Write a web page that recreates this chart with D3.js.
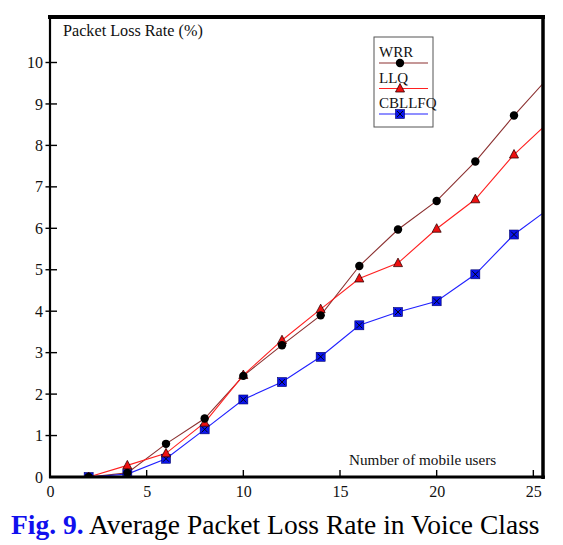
<!DOCTYPE html>
<html><head><meta charset="utf-8">
<script src="https://cdn.jsdelivr.net/npm/d3@7"></script>
<style>body{margin:0;background:#fff}svg{display:block}text{font-family:"Liberation Serif","Times New Roman",serif}</style>
</head><body><div id="chart"></div>
<script>
const users = [2,4,6,8,10,12,14,16,18,20,22,24,26];
const wrr    = [0,0.10,0.80,1.41,2.44,3.18,3.90,5.09,5.97,6.66,7.61,8.72,9.75];
const llq    = [0,0.28,0.57,1.31,2.46,3.30,4.05,4.79,5.16,5.99,6.70,7.78,8.65];
const cbllfq = [0,0.07,0.44,1.15,1.87,2.29,2.90,3.66,3.98,4.24,4.89,5.85,6.54];
const xTicks = [0,5,10,15,20,25];
const yTicks = [0,1,2,3,4,5,6,7,8,9,10];
const seriesNames = ["WRR","LLQ","CBLLFQ"];

const W=563,H=545;
const svg=d3.select("#chart").append("svg").attr("width",W).attr("height",H);
const x=d3.scaleLinear().domain([0,25.5]).range([50,543]);
const y=d3.scaleLinear().domain([0,10]).range([477,62.5]);

svg.append("defs").append("clipPath").attr("id","clip")
  .append("rect").attr("x",50).attr("y",17).attr("width",493).attr("height",460);

const series=[
  {name:seriesNames[0],vals:wrr,color:"#8b3030",marker:"circle"},
  {name:seriesNames[1],vals:llq,color:"#ff2020",marker:"triangle"},
  {name:seriesNames[2],vals:cbllfq,color:"#2020ff",marker:"square"}
];

function drawMarker(g,type,cx,cy){
  if(type==="circle"){
    g.append("circle").attr("cx",cx).attr("cy",cy).attr("r",4.2).attr("fill","#000");
  }else if(type==="triangle"){
    g.append("path").attr("d",`M${cx},${cy-5}L${cx+4.5},${cy+3.5}L${cx-4.5},${cy+3.5}Z`)
      .attr("fill","#ee1010").attr("stroke","#300").attr("stroke-width",0.8);
  }else{
    g.append("rect").attr("x",cx-4.5).attr("y",cy-4.5).attr("width",9).attr("height",9)
      .attr("fill","#0a14ee").attr("stroke","#00006a").attr("stroke-width",0.6);
    g.append("path").attr("d",`M${cx-3},${cy-3}L${cx+3},${cy+3}M${cx+3},${cy-3}L${cx-3},${cy+3}`)
      .attr("stroke","#000").attr("stroke-width",0.9);
  }
}

const plot=svg.append("g").attr("clip-path","url(#clip)");
const line=d3.line().x((d,i)=>x(users[i])).y(d=>y(d));
series.forEach(s=>{
  plot.append("path").attr("d",line(s.vals)).attr("fill","none")
    .attr("stroke",s.color).attr("stroke-width",1.1);
});
series.slice().reverse().forEach(s=>{
  s.vals.forEach((v,i)=>{ if(users[i]<=25) drawMarker(plot,s.marker,x(users[i]),y(v)); });
});

// frame
svg.append("line").attr("x1",48).attr("x2",545).attr("y1",17).attr("y2",17).attr("stroke","#000").attr("stroke-width",4);
svg.append("line").attr("x1",543).attr("x2",543).attr("y1",15).attr("y2",479).attr("stroke","#000").attr("stroke-width",3.5);
svg.append("line").attr("x1",50).attr("x2",50).attr("y1",15).attr("y2",478).attr("stroke","#000").attr("stroke-width",2.2);
svg.append("line").attr("x1",49).attr("x2",545).attr("y1",477).attr("y2",477).attr("stroke","#000").attr("stroke-width",3);

// y axis ticks
const yAxis=d3.axisLeft(y).tickValues(yTicks).tickSize(0).tickPadding(7).tickFormat(d3.format("d"));
const ya=svg.append("g").attr("transform","translate(50,0)").call(yAxis);
ya.select(".domain").remove();
ya.selectAll("text").attr("font-size",16).attr("fill","#111").attr("font-family","Liberation Serif");
yTicks.filter(d=>d>0).forEach(d=>{
  svg.append("line").attr("x1",45.5).attr("x2",57).attr("y1",y(d)).attr("y2",y(d)).attr("stroke","#000").attr("stroke-width",1.4);
});
// x axis ticks
const xAxis=d3.axisBottom(x).tickValues(xTicks).tickSize(0).tickPadding(9).tickFormat(d3.format("d"));
const xa=svg.append("g").attr("transform","translate(0,477)").call(xAxis);
xa.select(".domain").remove();
xa.selectAll("text").attr("font-size",16).attr("fill","#111").attr("font-family","Liberation Serif");
xTicks.filter(d=>d>0).forEach(d=>{
  svg.append("line").attr("x1",x(d)).attr("x2",x(d)).attr("y1",470).attr("y2",477).attr("stroke","#000").attr("stroke-width",1.4);
});

svg.append("text").attr("x",63).attr("y",35.5).attr("font-size",16.2).attr("fill","#111").text("Packet Loss Rate (%)");
svg.append("text").attr("x",349).attr("y",465).attr("font-size",15.2).attr("fill","#111").text("Number of mobile users");

// legend
const lg=svg.append("g");
lg.append("rect").attr("x",374).attr("y",37).attr("width",59).attr("height",90).attr("fill","#fff").attr("stroke","#555").attr("stroke-width",1);
series.forEach((s,i)=>{
  const by=57+i*25.5;
  lg.append("text").attr("x",379).attr("y",by).attr("font-size",15).attr("fill","#111").text(s.name);
  lg.append("line").attr("x1",379).attr("x2",428).attr("y1",by+6).attr("y2",by+6).attr("stroke",s.color).attr("stroke-width",1.2);
  drawMarker(lg,s.marker,400,by+6);
});

// caption
const cap=svg.append("text").attr("x",11).attr("y",534).attr("font-size",27.5);
cap.append("tspan").attr("fill","#1010ee").attr("font-weight","bold").text("Fig. 9.");
cap.append("tspan").attr("fill","#000").text(" Average Packet Loss Rate in Voice Class");
</script></body></html>
